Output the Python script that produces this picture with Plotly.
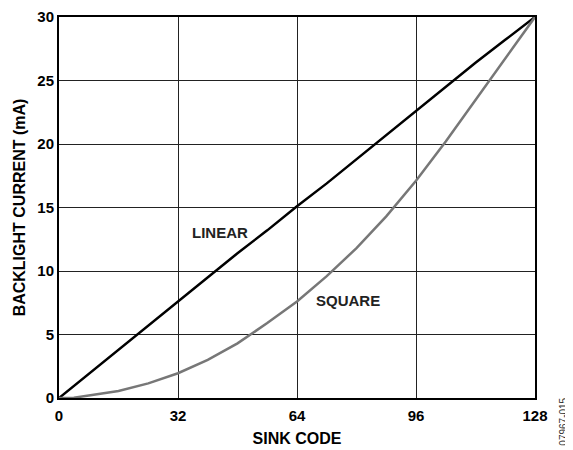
import plotly.graph_objects as go

codes = [0, 4, 8, 16, 24, 32, 40, 48, 56, 64, 72, 80, 88, 96, 104, 112, 120, 128]
linear_ma = [0.0, 0.95, 1.9, 3.8, 5.7, 7.6, 9.5, 11.4, 13.2, 15.1, 16.9, 18.8, 20.7, 22.6, 24.5, 26.4, 28.2, 30.0]
square_ma = [0.0, 0.02, 0.2, 0.55, 1.15, 1.95, 3.0, 4.3, 5.9, 7.6, 9.6, 11.8, 14.3, 17.1, 20.2, 23.5, 26.7, 30.0]

x_ticks = [0, 32, 64, 96, 128]
y_ticks = [0, 5, 10, 15, 20, 25, 30]

font = "Liberation Sans, Arial, sans-serif"

fig = go.Figure()
fig.add_trace(go.Scatter(x=codes, y=linear_ma, mode="lines", name="LINEAR",
                         line=dict(color="#000000", width=2.5)))
fig.add_trace(go.Scatter(x=codes, y=square_ma, mode="lines", name="SQUARE",
                         line=dict(color="#777777", width=2.5)))

fig.add_annotation(x=43.4, y=13.07, text="<b>LINEAR</b>", showarrow=False,
                   font=dict(family=font, size=15, color="#222"))
fig.add_annotation(x=77.7, y=7.7, text="<b>SQUARE</b>", showarrow=False,
                   font=dict(family=font, size=15, color="#222"))
fig.add_annotation(xref="paper", yref="paper", x=1.06, y=0.005, text="07967-015",
                   textangle=-90, showarrow=False, xanchor="center", yanchor="top",
                   font=dict(family=font, size=10, color="#333"))

fig.update_layout(
    width=565, height=442,
    margin=dict(l=51, r=38, t=9, b=52),
    paper_bgcolor="white", plot_bgcolor="white",
    showlegend=False,
    font=dict(family=font, size=15, color="#000"),
)
fig.update_xaxes(range=[0, 128], tickvals=x_ticks, ticktext=[f"<b>{v}</b>" for v in x_ticks],
                 showgrid=True, gridcolor="#222", gridwidth=1,
                 showline=True, linecolor="#000", linewidth=2, mirror=True,
                 zeroline=False, ticks="", automargin=False, ticklabelstandoff=3,
                 title=dict(text="<b>SINK CODE</b>", font=dict(size=16), standoff=10))
fig.update_yaxes(range=[0, 30], tickvals=y_ticks, ticktext=[f"<b>{v}</b>" for v in y_ticks],
                 showgrid=True, gridcolor="#222", gridwidth=1,
                 showline=True, linecolor="#000", linewidth=2, mirror=True,
                 zeroline=False, ticks="", automargin=False,
                 title=dict(text="<b>BACKLIGHT CURRENT (mA)</b>", font=dict(size=16), standoff=8))

fig.write_html("out.html")
